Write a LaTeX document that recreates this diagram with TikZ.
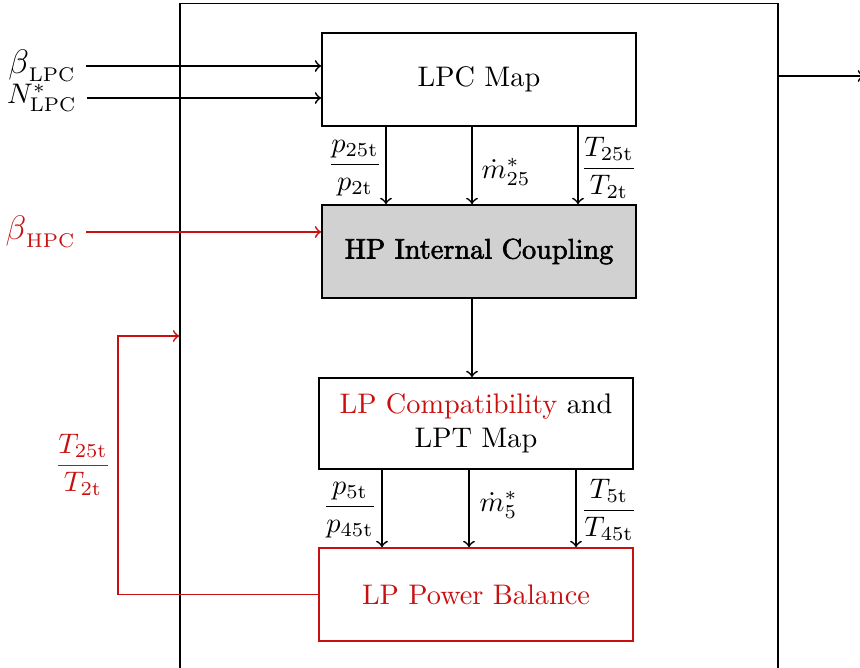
\documentclass[tikz,border=0pt]{standalone}
\usepackage{amsmath}
\usepackage{fontspec}
\newfontfamily\fbfont[Extension=.otf, FakeBold=2.2]{lmroman10-regular}
\definecolor{myred}{RGB}{200,16,16}
\newcommand{\bigsym}[1]{\mbox{\large$#1$}}
\newcommand{\fr}[4]{$\dfrac{#1_{#2}}{#3_{#4}}$}
\begin{document}
\begin{tikzpicture}[x=0.3534pt,y=-0.3534pt, line width=0.6pt,
  box/.style={draw, minimum width=111pt, minimum height=32.9pt, inner sep=0pt, align=center},
  inlbl/.style={anchor=east, inner sep=3.33pt},
  frl/.style={inner sep=1pt}]
\clip (0,0) rectangle (860,668);
\useasboundingbox (0,0) rectangle (860,668);
% outer frame
\node[draw, minimum width=211.3pt, minimum height=246pt, inner sep=0pt] (outer) at (479,351.5) {};
% main boxes
\node[box] (lpc) at (479,79.5) {LPC Map};
\node[box, fill=black!18] (hp) at (479,251.5) {{\fbfont HP Internal Coupling}};
\node[box, minimum height=32.2pt] (lpcomp) at (476,423.5) {\textcolor{myred}{LP Compatibility} and\\LPT Map};
\node[box, draw=myred, text=myred] (lppb) at (476,594.5) {LP Power Balance};
% inputs
\node[inlbl] (blpc) at (86,66) {${\bigsym{\beta}}_{\mathrm{LPC}}$};
\node[inlbl] (nlpc) at (87,98) {$N^*_{\mathrm{LPC}}$};
\node[inlbl, text=myred] (bhpc) at (86,232) {${\bigsym{\beta}}_{\mathrm{HPC}}$};
\draw[->] (blpc.east) -- (blpc.east -| lpc.west);
\draw[->] (nlpc.east) -- (nlpc.east -| lpc.west);
\draw[->, myred] (bhpc.east) -- (bhpc.east -| hp.west);
% LPC -> HP
\draw[->] (lpc.south -| 386,0) -- (hp.north -| 386,0);
\draw[->] (lpc.south -| 472,0) -- (hp.north -| 472,0);
\draw[->] (lpc.south -| 578,0) -- (hp.north -| 578,0);
\node[frl] (l1) at (355,168) {\fr{p}{25\mathrm{t}}{p}{2\mathrm{t}}};
\node[frl, anchor=west] (l2) at (478,172) {$\dot{m}^*_{25}$};
\node[frl] (l3) at (609,168) {\fr{T}{25\mathrm{t}}{T}{2\mathrm{t}}};
% HP -> LP compat
\draw[->] (hp.south -| 472,0) -- (lpcomp.north -| 472,0);
% LP compat -> LP power
\draw[->] (lpcomp.south -| 382,0) -- (lppb.north -| 382,0);
\draw[->] (lpcomp.south -| 469,0) -- (lppb.north -| 469,0);
\draw[->] (lpcomp.south -| 576,0) -- (lppb.north -| 576,0);
\node[frl] (l4) at (350,510) {\fr{p}{5\mathrm{t}}{p}{45\mathrm{t}}};
\node[frl, anchor=west] (l5) at (476,505) {$\dot{m}^*_{5}$};
\node[frl] (l6) at (609,510) {\fr{T}{5\mathrm{t}}{T}{45\mathrm{t}}};
% feedback
\coordinate (fb) at (118,336);
\draw[->, myred] (lppb.west) -| (fb) -- (fb -| outer.west);
\node[frl, text=myred] (fbl) at (83,465) {\fr{T}{25\mathrm{t}}{T}{2\mathrm{t}}};
% output
\coordinate (out) at (864,76);
\draw[->] (outer.east |- out) -- (out);
\end{tikzpicture}
\end{document}
